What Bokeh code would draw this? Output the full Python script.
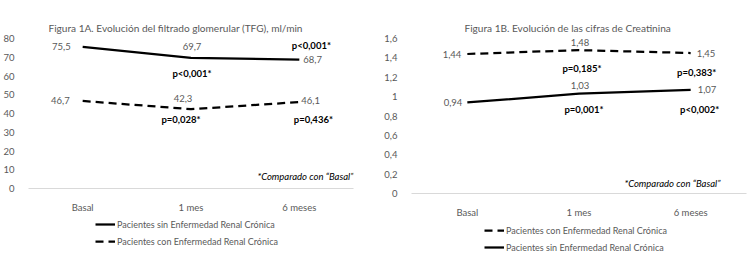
from bokeh.plotting import figure
from bokeh.models import FactorRange, Range1d, Legend, LegendItem, Label, ColumnDataSource
from bokeh.layouts import row, column
from bokeh.embed import file_html
from bokeh.resources import INLINE
from bokeh.core.properties import value

# ---------------- data ----------------
categories = ["Basal", "1 mes", "6 meses"]

tfg_sin = [75.5, 69.7, 68.7]
tfg_con = [46.7, 42.3, 46.1]
tfg_sin_labels = ["75,5", "69,7", "68,7"]
tfg_con_labels = ["46,7", "42,3", "46,1"]
tfg_sin_p = ["", "p<0,001*", "p<0,001*"]
tfg_con_p = ["", "p=0,028*", "p=0,436*"]
tfg_ticks = [0, 10, 20, 30, 40, 50, 60, 70, 80]

cr_con = [1.44, 1.48, 1.45]
cr_sin = [0.94, 1.03, 1.07]
cr_con_labels = ["1,44", "1,48", "1,45"]
cr_sin_labels = ["0,94", "1,03", "1,07"]
cr_con_p = ["", "p=0,185*", "p=0,383*"]
cr_sin_p = ["", "p=0,001*", "p<0,002*"]
cr_ticks = [0, 0.2, 0.4, 0.6, 0.8, 1.0, 1.2, 1.4, 1.6]
cr_tick_labels = ["0", "0,2", "0,4", "0,6", "0,8", "1", "1,2", "1,4", "1,6"]

label_sin = "Pacientes sin Enfermedad Renal Crónica"
label_con = "Pacientes con Enfermedad Renal Crónica"
note = "*Comparado con \u201cBasal\u201d"

FONT = "Lato"
GRAY = "#595959"
DASH = "8 5"


def base_fig(title, title_size, ymax, width, height, bl, br, bt, bb, tick_vals,
             tick_labels, title_offset):
    p = figure(width=width, height=height, x_range=FactorRange(*categories, range_padding=0),
               y_range=Range1d(0, ymax), output_backend="svg", toolbar_location=None,
               min_border_left=bl, min_border_right=br, min_border_top=bt, min_border_bottom=bb)
    p.title.text = title
    p.title.align = "left"
    p.title.text_font = FONT
    p.title.text_font_size = title_size
    p.title.text_font_style = "normal"
    p.title.text_color = GRAY
    p.title.offset = title_offset
    p.title.standoff = 10
    p.outline_line_color = None
    p.grid.grid_line_color = None
    p.yaxis.axis_line_color = None
    p.yaxis.major_tick_line_color = None
    p.yaxis.minor_tick_line_color = None
    p.yaxis.ticker = tick_vals
    p.yaxis.major_label_overrides = {v: l for v, l in zip(tick_vals, tick_labels)}
    p.yaxis.major_label_text_font = FONT
    p.yaxis.major_label_text_font_size = "9.5px"
    p.yaxis.major_label_text_color = GRAY
    p.yaxis.major_label_standoff = 8
    p.xaxis.axis_line_color = "#d9d9d9"
    p.xaxis.major_tick_line_color = None
    p.xaxis.minor_tick_line_color = None
    p.xaxis.major_label_text_font = FONT
    p.xaxis.major_label_text_font_size = "9.5px"
    p.xaxis.major_label_text_color = GRAY
    p.xaxis.major_label_standoff = 7
    return p


def add_labels(p, vals, labels, xoff, yoff, align, bold=False):
    src = ColumnDataSource(dict(x=categories, y=vals, t=labels, xo=xoff, yo=yoff))
    p.text(x="x", y="y", text="t", source=src, x_offset="xo", y_offset="yo",
           text_align=align, text_baseline="middle", text_font=value(FONT),
           text_font_size="9.5px", text_font_style="bold" if bold else "normal",
           text_color="black" if bold else GRAY)


def legend_fig(entries, height, bl, br, lx, ly):
    # legend-only strip: the series are drawn off-view so only the legend shows
    lf = figure(width=375, height=height, x_range=FactorRange(*categories, range_padding=0),
                y_range=Range1d(-1001, -1000), output_backend="svg", toolbar_location=None,
                x_axis_type=None, y_axis_type=None, min_border_left=bl,
                min_border_right=br, min_border_top=0, min_border_bottom=0)
    lf.outline_line_color = None
    lf.grid.grid_line_color = None
    items = []
    for lbl, vals, dash in entries:
        r = lf.line(categories, vals, line_color="black", line_width=2.25, line_dash=dash)
        items.append(LegendItem(label=value(lbl), renderers=[r]))
    lf.add_layout(Legend(items=items, location=(lx, ly), orientation="vertical",
                         border_line_color=None, background_fill_alpha=0, padding=0,
                         margin=0, spacing=3, glyph_width=20, glyph_height=14,
                         label_height=14, label_standoff=2, label_text_font=FONT,
                         label_text_font_size="9px", label_text_color=GRAY))
    return lf


# ---------------- Figure 1A ----------------
pa = base_fig("Figura 1A. Evolución del filtrado glomerular (TFG), ml/min", "10.1px", 80,
              375, 215, 24, 22, 38, 24, tfg_ticks, [str(t) for t in tfg_ticks], 20)
pa.line(categories, tfg_sin, line_color="black", line_width=2.25)
pa.line(categories, tfg_con, line_color="black", line_width=2.25, line_dash=DASH)

add_labels(pa, tfg_sin, [tfg_sin_labels[0], "", ""], [-12, 0, 0], [0, 0, 0], "right")
add_labels(pa, tfg_sin, ["", tfg_sin_labels[1], ""], [0, 1, 0], [0, -11, 0], "center")
add_labels(pa, tfg_sin, ["", "", tfg_sin_labels[2]], [0, 0, 4], [0, 0, 0], "left")
add_labels(pa, tfg_con, [tfg_con_labels[0], "", ""], [-13, 0, 0], [0, 0, 0], "right")
add_labels(pa, tfg_con, ["", tfg_con_labels[1], ""], [0, -8, 0], [0, -11, 0], "center")
add_labels(pa, tfg_con, ["", "", tfg_con_labels[2]], [0, 0, 2], [0, 0, -2], "left")
add_labels(pa, tfg_sin, tfg_sin_p, [0, 1, 12], [0, 16, -14], "center", bold=True)
add_labels(pa, tfg_con, tfg_con_p, [0, -10, 14], [0, 10, 17], "center", bold=True)

pa.add_layout(Label(x=325, y=12, x_units="screen", y_units="screen", text=note,
                    text_align="right", text_baseline="middle", text_font=FONT,
                    text_font_size="9.5px", text_font_style="italic", text_color="black"))

lega = legend_fig([(label_sin, tfg_sin, "solid"), (label_con, tfg_con, DASH)],
                  46, 24, 22, 67, 13)

# ---------------- Figure 1B ----------------
pb = base_fig("Figura 1B. Evolución de las cifras de Creatinina", "10.1px", 1.6,
              375, 220, 36, 4, 38, 22, cr_ticks, cr_tick_labels, 53)
pb.line(categories, cr_con, line_color="black", line_width=2.25, line_dash=DASH)
pb.line(categories, cr_sin, line_color="black", line_width=2.25)

add_labels(pb, cr_con, [cr_con_labels[0], "", ""], [-6, 0, 0], [0, 0, 0], "right")
add_labels(pb, cr_con, ["", cr_con_labels[1], ""], [0, 1, 0], [0, -8, 0], "center")
add_labels(pb, cr_con, ["", "", cr_con_labels[2]], [0, 0, 6], [0, 0, 0], "left")
add_labels(pb, cr_sin, [cr_sin_labels[0], "", ""], [-5, 0, 0], [0, -1, 0], "right")
add_labels(pb, cr_sin, ["", cr_sin_labels[1], ""], [0, 1, 0], [0, -8, 0], "center")
add_labels(pb, cr_sin, ["", "", cr_sin_labels[2]], [0, 0, 7], [0, 0, 0], "left")
add_labels(pb, cr_con, cr_con_p, [0, 3, 6], [0, 18, 19], "center", bold=True)
add_labels(pb, cr_sin, cr_sin_p, [0, 5, 9], [0, 16, 20], "center", bold=True)

pb.add_layout(Label(x=309, y=10, x_units="screen", y_units="screen", text=note,
                    text_align="right", text_baseline="middle", text_font=FONT,
                    text_font_size="9.5px", text_font_style="italic", text_color="black"))

legb = legend_fig([(label_con, cr_con, DASH), (label_sin, cr_sin, "solid")],
                  41, 36, 4, 73, 7)

layout = row(column(pa, lega), column(pb, legb))
open("out.html", "w").write(file_html(layout, INLINE))
